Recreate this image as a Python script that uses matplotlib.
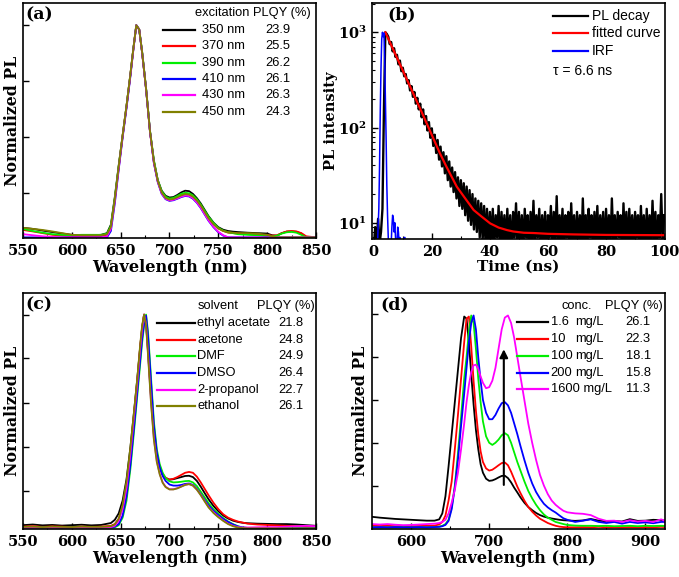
import numpy as np
import matplotlib
matplotlib.use('Agg')
import matplotlib.pyplot as plt
from matplotlib.ticker import MultipleLocator, NullFormatter

plt.rcParams['font.family'] = 'DejaVu Serif'
plt.rcParams['font.weight'] = 'bold'
plt.rcParams['mathtext.fontset'] = 'dejavuserif'
plt.rcParams['axes.linewidth'] = 1.2

# ---------------- (a) excitation dependence ----------------
wl_a = [550, 560, 570, 580, 590, 600, 610, 620, 630, 636, 640, 644, 648, 652, 656, 660,
        663, 666, 669, 672, 676, 680, 684, 688, 692, 696, 700, 704, 708, 712, 716, 720,
        724, 728, 732, 736, 740, 745, 750, 755, 760, 765, 770, 780, 790, 800, 805, 810,
        815, 820, 825, 830, 835, 840, 850]
a_350 = [.045, .040, .032, .025, .018, .012, .010, .010, .012, .020, .060, .19, .34, .48, .62, .77,
         .89, 1.0, .98, .87, .70, .50, .36, .27, .22, .196, .188, .19, .20, .212, .22, .218,
         .205, .185, .16, .13, .10, .07, .048, .036, .03, .027, .025, .022, .02, .018, .01, .008,
         .02, .027, .028, .026, .018, .0, .0]
a_370 = [.035, .028, .020, .012, .008, .005, .005, .005, .006, .012, .05, .18, .33, .48, .62, .77,
         .89, 1.0, .98, .87, .70, .50, .355, .265, .21, .185, .178, .18, .188, .198, .205, .204,
         .193, .175, .15, .12, .092, .063, .042, .03, .022, .02, .018, .015, .012, .012, .008, .01,
         .02, .028, .03, .028, .02, .005, .0]
a_390 = [.040, .030, .022, .015, .012, .010, .012, .012, .012, .018, .055, .185, .335, .48, .62, .77,
         .89, 1.0, .98, .875, .705, .505, .365, .27, .218, .192, .183, .186, .195, .205, .21, .208,
         .198, .18, .155, .126, .097, .068, .045, .032, .024, .02, .015, .012, .01, .005, .003, .008,
         .018, .024, .026, .022, .012, .0, .0]
a_410 = [.0, .0, .0, .0, .0, .0, .0, .0, .0, .0, .03, .16, .32, .47, .61, .76,
         .885, 1.0, .98, .87, .70, .50, .35, .26, .205, .18, .172, .175, .182, .19, .195, .193,
         .182, .163, .138, .108, .078, .048, .024, .008, .0, .0, .0, .0, .0, .0, .0, .0,
         .0, .0, .0, .0, .0, .0, .0]
a_430 = [.015, .010, .005, .002, .0, .0, .0, .0, .0, .005, .04, .17, .325, .475, .615, .765,
         .885, 1.0, .98, .87, .70, .50, .352, .262, .207, .182, .174, .177, .184, .192, .197, .195,
         .184, .165, .14, .11, .08, .05, .026, .01, .0, .0, .0, .0, .0, .0, .0, .0,
         .0, .0, .0, .0, .0, .0, .0]
a_450 = [.045, .040, .035, .028, .020, .012, .010, .010, .010, .015, .05, .18, .335, .48, .62, .77,
         .89, 1.0, .98, .872, .702, .502, .358, .266, .212, .186, .178, .181, .189, .198, .204, .202,
         .192, .174, .15, .12, .09, .062, .042, .03, .025, .022, .02, .02, .018, .012, .005, .0,
         .0, .0, .0, .0, .0, .0, .0]
exc_names = ['350 nm', '370 nm', '390 nm', '410 nm', '430 nm', '450 nm']
exc_plqy = ['23.9', '25.5', '26.2', '26.1', '26.3', '24.3']

# ---------------- (b) PL decay ----------------
decay_t = np.arange(0, 100.5, 0.5)
decay_counts = [5, 9, 6, 11, 6, 8, 14, 150, 1000, 960,
                900, 750, 790, 630, 680, 550, 580, 460, 505, 390,
                425, 345, 365, 290, 315, 245, 272, 210, 236, 178,
                205, 155, 178, 128, 155, 108, 132, 93, 114, 78,
                98, 64, 84, 54, 74, 46, 63, 39, 55, 33,
                50, 28, 44, 24, 38, 21, 34, 18, 30, 15,
                28, 14, 26, 12, 24, 10.5, 22, 9.5, 20, 8.5,
                18, 8, 17, 7, 16, 6.5, 15, 6, 14, 5.5,
                13, 6, 14, 5.5, 12, 7, 15, 5, 13, 6.5,
                12, 5, 14, 6, 12, 4.5, 13, 7, 16, 5.5,
                13, 6, 12, 5, 14, 7, 12, 4.5, 13, 6,
                17, 5.5, 12, 7, 14, 5, 12, 6, 13, 4.5,
                12, 7, 15, 5, 13, 6, 19, 5.5, 12, 6.5,
                14, 5, 12, 7, 13, 4.5, 16, 6, 12, 5,
                13, 6.5, 12, 5, 18, 6, 12, 4.5, 14, 7,
                12, 5, 13, 6, 15, 5.5, 12, 6.5, 13, 4.5,
                14, 6, 12, 5, 18, 6.5, 12, 5.5, 13, 7,
                12, 4.5, 16, 6, 13, 5, 14, 6.5, 12, 5.5,
                13, 7, 12, 5, 15, 6, 12, 4.5, 14, 6,
                12, 5.5, 17, 6, 13, 5, 12, 7, 20, 6,
                12]
fit_t = [4.0, 10, 16.7, 22.8, 25, 28.6, 31, 34.4, 37, 40.1, 43, 45.9, 48, 51.7, 55, 60, 69, 80, 100]
fit_counts = [1000, 397, 141, 53.5, 39, 23.9, 18.9, 13.6, 11.7, 9.84, 8.9, 8.37, 8.1, 7.85, 7.8,
              7.65, 7.54, 7.45, 7.4]
irf_t = np.arange(1.0, 11.01, 0.25)
irf_counts = [4, 5, 9, 14, 40, 150, 420, 850, 1000, 900, 980, 560, 210, 80, 25, 12,
              7, 5, 4, 4, 6, 9, 12, 11, 8, 10, 7, 5, 6, 9, 8, 6, 7, 5, 4, 6,
              5, 4, 7, 7, 4]
decay_names = ['PL decay', 'fitted curve', 'IRF']
tau_text = '\u03c4 = 6.6 ns'

# ---------------- (c) solvent dependence ----------------
wl_c = [550, 560, 570, 580, 590, 600, 610, 620, 630, 640, 644, 648, 652, 656, 660, 664,
        667, 670, 672, 674, 676, 678, 681, 684, 687, 690, 693, 696, 700, 704, 708, 712,
        716, 720, 724, 728, 732, 736, 740, 745, 750, 755, 760, 765, 770, 775, 780, 790,
        800, 810, 820, 830, 840, 850]
c_ethyl = [.015, .018, .014, .016, .013, .015, .017, .014, .016, .025, .04, .07, .13, .23, .38, .56,
           .70, .85, .94, 1.0, .96, .83, .62, .44, .34, .285, .25, .235, .228, .23, .235, .24,
           .245, .246, .24, .222, .195, .165, .136, .105, .08, .06, .046, .036, .03, .026, .024, .022,
           .021, .02, .02, .018, .015, .012]
c_acetone = [.008, .01, .007, .009, .008, .006, .008, .007, .008, .012, .02, .045, .1, .2, .36, .55,
             .69, .85, .94, 1.0, .965, .84, .63, .45, .345, .29, .255, .237, .228, .232, .24, .25,
             .26, .264, .26, .242, .215, .185, .155, .12, .09, .066, .05, .04, .032, .027, .022, .018,
             .016, .014, .012, .01, .009, .008]
c_dmf = [.003, .003, .002, .003, .002, .003, .002, .003, .002, .003, .005, .015, .05, .13, .28, .47,
         .62, .77, .87, .95, 1.0, .92, .71, .5, .37, .3, .26, .235, .22, .215, .216, .218,
         .221, .222, .215, .198, .172, .145, .118, .09, .068, .048, .032, .02, .01, .004, .002, .0,
         .0, .0, .0, .0, .0, .0]
c_dmso = [.005, .004, .006, .005, .004, .005, .006, .004, .005, .006, .008, .02, .06, .15, .3, .49,
          .64, .79, .89, .96, .995, .9, .69, .48, .355, .285, .245, .222, .205, .2, .2, .203,
          .208, .21, .203, .185, .16, .133, .108, .082, .062, .044, .03, .018, .009, .004, .002, .0,
          .0, .0, .0, .0, .0, .0]
c_propanol = [.004, .003, .004, .003, .004, .003, .004, .003, .004, .006, .012, .035, .09, .19, .35, .54,
              .68, .84, .93, 1.0, .955, .82, .6, .42, .315, .255, .215, .195, .183, .183, .188, .196,
              .204, .207, .2, .182, .157, .128, .1, .075, .055, .037, .022, .012, .006, .004, .004, .005,
              .006, .006, .008, .01, .012, .01]
c_ethanol = [.007, .008, .006, .008, .007, .006, .008, .007, .007, .01, .018, .045, .11, .22, .38, .56,
             .7, .86, .95, 1.0, .95, .81, .59, .415, .31, .252, .213, .193, .182, .182, .187, .195,
             .203, .207, .2, .181, .155, .126, .098, .072, .052, .035, .02, .01, .004, .001, .0, .0,
             .0, .0, .0, .0, .0, .0]
solv_names = ['ethyl acetate', 'acetone', 'DMF', 'DMSO', '2-propanol', 'ethanol']
solv_plqy = ['21.8', '24.8', '24.9', '26.4', '22.7', '26.1']

# ---------------- (d) concentration dependence ----------------
wl_d = [550, 560, 570, 580, 590, 600, 610, 620, 630, 636, 640, 644, 648, 652, 656, 660,
        664, 668, 671, 674, 677, 680, 683, 686, 689, 692, 696, 700, 704, 708, 712, 716,
        720, 724, 728, 732, 736, 740, 745, 750, 755, 760, 765, 770, 775, 780, 785, 790,
        795, 800, 810, 820, 830, 840, 850, 860, 870, 880, 890, 900, 910, 920, 925]
d_1p6 = [.054, .05, .047, .044, .042, .04, .038, .036, .036, .042, .07, .15, .29, .44, .59, .74,
         .89, .99, .98, .87, .72, .58, .46, .37, .3, .26, .232, .222, .224, .23, .238, .245,
         .246, .235, .215, .19, .168, .145, .12, .1, .085, .072, .062, .055, .05, .046, .043, .04,
         .038, .037, .035, .037, .044, .036, .033, .034, .032, .043, .035, .036, .04, .038, .036]
d_10 = [.012, .011, .012, .01, .011, .01, .011, .012, .013, .018, .03, .06, .13, .22, .37, .53,
        .7, .87, .98, .99, .85, .69, .55, .44, .36, .31, .28, .27, .274, .284, .295, .305,
        .308, .295, .265, .23, .195, .165, .13, .1, .078, .06, .045, .035, .025, .018, .012, .008,
        .006, .005, .005, .006, .005, .007, .005, .006, .005, .006, .005, .006, .005, .007, .006]
d_100 = [.005, .004, .005, .004, .005, .004, .005, .005, .006, .008, .012, .02, .04, .1, .2, .35,
         .52, .7, .8, .92, .995, .96, .84, .7, .59, .5, .43, .4, .39, .4, .415, .435,
         .445, .435, .4, .355, .31, .27, .22, .175, .14, .11, .085, .065, .05, .04, .03, .025,
         .02, .016, .013, .012, .012, .011, .012, .01, .011, .012, .01, .012, .011, .012, .011]
d_200 = [.005, .006, .005, .006, .005, .005, .006, .005, .006, .007, .01, .016, .035, .09, .19, .32,
         .48, .63, .75, .87, .96, .995, .93, .8, .69, .6, .54, .51, .51, .53, .56, .585,
         .59, .575, .54, .49, .44, .385, .32, .26, .21, .17, .14, .115, .098, .085, .074, .06,
         .047, .04, .03, .036, .042, .03, .025, .03, .022, .03, .025, .028, .024, .03, .03]
d_1600 = [.02, .018, .02, .017, .015, .016, .018, .02, .022, .025, .03, .04, .07, .12, .18, .26,
          .37, .49, .59, .67, .73, .762, .765, .745, .71, .68, .655, .66, .69, .75, .84, .93,
          .985, .995, .96, .89, .8, .71, .6, .49, .4, .32, .25, .2, .16, .13, .11, .095,
          .082, .075, .07, .068, .062, .045, .035, .036, .03, .038, .032, .035, .03, .042, .035]
conc_names = ['1.6', '10', '100', '200', '1600']
conc_plqy = ['26.1', '22.3', '18.1', '15.8', '11.3']
arrow_x = 718.7
arrow_from, arrow_to = 0.19, 0.85

six_colors = ['black', '#ff0000', '#00ee00', '#0000ff', '#ff00ff', '#808000']
five_colors = ['black', '#ff0000', '#00ee00', '#0000ff', '#ff00ff']

W, H = 679, 577


def box(l, t, r, b):
    return [l / W, 1 - b / H, (r - l) / W, (b - t) / H]


def style(ax):
    ax.tick_params(which='both', direction='in', top=False, right=False, labelsize=10.5, pad=4)
    ax.tick_params(which='major', length=4, width=1)
    ax.tick_params(which='minor', length=2.5, width=0.8)
    for lab in ax.get_xticklabels() + ax.get_yticklabels():
        lab.set_fontweight('bold')


def key(ax, colors, names, values, hx0, hx1, tx, vx, y0, dy, fs=9.3, unit_x=None):
    for i, (c, n, v) in enumerate(zip(colors, names, values)):
        y = y0 - i * dy
        ax.plot([hx0, hx1], [y, y], color=c, lw=1.6, transform=ax.transAxes, clip_on=False)
        if unit_x is not None and len(n) <= 3:
            ax.text(tx, y, n, transform=ax.transAxes, va='center', ha='left',
                    family='Liberation Sans', weight='normal', fontsize=fs)
            ax.text(unit_x, y, 'mg/L', transform=ax.transAxes, va='center', ha='left',
                    family='Liberation Sans', weight='normal', fontsize=fs)
        else:
            label = n + ' mg/L' if unit_x is not None else n
            ax.text(tx, y, label, transform=ax.transAxes, va='center', ha='left',
                    family='Liberation Sans', weight='normal', fontsize=fs)
        if v is not None:
            ax.text(vx, y, v, transform=ax.transAxes, va='center', ha='left',
                    family='Liberation Sans', weight='normal', fontsize=fs)


def head(ax, x, y, s, fs=9.3):
    ax.text(x, y, s, transform=ax.transAxes, va='center', ha='left',
            family='Liberation Sans', weight='normal', fontsize=fs)


fig = plt.figure(figsize=(W / 100, H / 100), dpi=100)
ax_a = fig.add_axes(box(23, 3, 316, 238))
ax_b = fig.add_axes(box(372, 3, 665, 239))
ax_c = fig.add_axes(box(23, 293, 316, 529))
ax_d = fig.add_axes(box(372, 293, 665, 529))

# (a)
for ys, c in zip([a_350, a_370, a_390, a_410, a_430, a_450], six_colors):
    ax_a.plot(wl_a, ys, color=c, lw=1.3)
ax_a.set_xlim(550, 850)
ax_a.set_ylim(-0.003, 1.105)
ax_a.set_yticks([0.211, 0.474, 0.737, 1.0])
ax_a.yaxis.set_major_formatter(NullFormatter())
ax_a.xaxis.set_major_locator(MultipleLocator(50))
ax_a.xaxis.set_minor_locator(MultipleLocator(25))
ax_a.set_xlabel('Wavelength (nm)', fontsize=11.7, fontweight='bold', labelpad=1)
ax_a.set_ylabel('Normalized PL', fontsize=11.3, fontweight='bold')
ax_a.yaxis.set_label_coords(-0.008, 0.5)
style(ax_a)
head(ax_a, 0.587, 0.957, 'excitation PLQY (%)')
key(ax_a, six_colors, exc_names, exc_plqy, 0.478, 0.587, 0.611, 0.826, 0.885, 0.0694)
ax_a.text(0.008, 0.985, '(a)', transform=ax_a.transAxes, va='top', ha='left',
          fontsize=12.5, fontweight='bold')

# (b)
ax_b.plot(decay_t, decay_counts, color='black', lw=1.7)
ax_b.plot(fit_t, fit_counts, color='#ff0000', lw=1.6)
ax_b.plot(irf_t, irf_counts, color='#0000ff', lw=1.1)
ax_b.set_yscale('log')
ax_b.set_xlim(-0.6, 100.3)
ax_b.set_ylim(6.75, 2030)
ax_b.set_yticks([10, 100, 1000])
ax_b.set_yticklabels([r'$\mathbf{10^{1}}$', r'$\mathbf{10^{2}}$', r'$\mathbf{10^{3}}$'])
ax_b.xaxis.set_major_locator(MultipleLocator(20))
ax_b.xaxis.set_minor_locator(MultipleLocator(10))
ax_b.set_xlabel('Time (ns)', fontsize=11, fontweight='bold', labelpad=1)
ax_b.set_ylabel('PL intensity', fontsize=10.5, fontweight='bold')
ax_b.yaxis.set_label_coords(-0.116, 0.5)
style(ax_b)
ax_b.yaxis.set_minor_formatter(NullFormatter())
key(ax_b, ['black', '#ff0000', '#0000ff'], decay_names, [None] * 3,
    0.619, 0.738, 0.750, 0, 0.945, 0.0735, fs=10)
head(ax_b, 0.619, 0.712, tau_text, fs=10)
ax_b.text(0.052, 0.985, '(b)', transform=ax_b.transAxes, va='top', ha='left',
          fontsize=12.5, fontweight='bold')

# (c)
for ys, c in zip([c_ethyl, c_acetone, c_dmf, c_dmso, c_propanol, c_ethanol], six_colors):
    ax_c.plot(wl_c, ys, color=c, lw=1.3)
ax_c.set_xlim(550, 850)
ax_c.set_ylim(-0.003, 1.101)
ax_c.set_yticks([0.176, 0.381, 0.588, 0.795, 1.0])
ax_c.yaxis.set_major_formatter(NullFormatter())
ax_c.xaxis.set_major_locator(MultipleLocator(50))
ax_c.xaxis.set_minor_locator(MultipleLocator(25))
ax_c.set_xlabel('Wavelength (nm)', fontsize=11.7, fontweight='bold', labelpad=1)
ax_c.set_ylabel('Normalized PL', fontsize=11.3, fontweight='bold')
ax_c.yaxis.set_label_coords(-0.008, 0.5)
style(ax_c)
head(ax_c, 0.597, 0.945, 'solvent')
head(ax_c, 0.799, 0.945, 'PLQY (%)')
key(ax_c, six_colors, solv_names, solv_plqy, 0.457, 0.587, 0.594, 0.870, 0.872, 0.0703)
ax_c.text(0.008, 0.984, '(c)', transform=ax_c.transAxes, va='top', ha='left',
          fontsize=12.5, fontweight='bold')

# (d)
for ys, c in zip([d_1p6, d_10, d_100, d_200, d_1600], five_colors):
    ax_d.plot(wl_d, ys, color=c, lw=1.3)
ax_d.annotate('', xy=(arrow_x, arrow_to), xytext=(arrow_x, arrow_from),
              arrowprops=dict(arrowstyle='-|>', color='black', lw=1.5, mutation_scale=12))
ax_d.set_xlim(550, 925)
ax_d.set_ylim(-0.003, 1.10)
ax_d.set_yticks([0.2, 0.4, 0.6, 0.8, 1.0])
ax_d.yaxis.set_major_formatter(NullFormatter())
ax_d.xaxis.set_major_locator(MultipleLocator(100))
ax_d.xaxis.set_minor_locator(MultipleLocator(50))
ax_d.set_xlabel('Wavelength (nm)', fontsize=11.7, fontweight='bold', labelpad=1)
ax_d.set_ylabel('Normalized PL', fontsize=11.3, fontweight='bold')
ax_d.yaxis.set_label_coords(-0.01, 0.5)
style(ax_d)
head(ax_d, 0.647, 0.945, 'conc.')
head(ax_d, 0.795, 0.945, 'PLQY (%)')
key(ax_d, five_colors, conc_names, conc_plqy, 0.494, 0.602, 0.610, 0.866, 0.876, 0.0712,
    unit_x=0.693)
ax_d.text(0.027, 0.984, '(d)', transform=ax_d.transAxes, va='top', ha='left',
          fontsize=12.5, fontweight='bold')

fig.savefig('out.png', dpi=100)
